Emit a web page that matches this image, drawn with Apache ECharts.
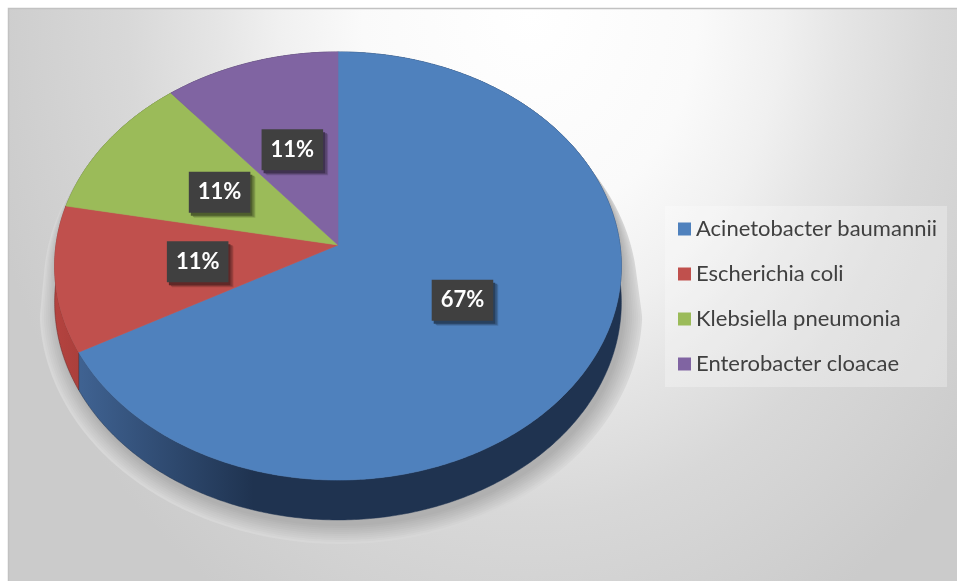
<!DOCTYPE html>
<html>
<head>
<meta charset="utf-8">
<script src="https://cdn.jsdelivr.net/npm/echarts@6/dist/echarts.min.js"></script>
<style>
  html, body { margin: 0; padding: 0; background: #ffffff; }
  #chart { width: 957px; height: 581px; }
</style>
</head>
<body>
<div id="chart"></div>
<script>
// Share of isolates per organism (percent)
const categories = ['Acinetobacter baumannii', 'Escherichia coli', 'Klebsiella pneumonia', 'Enterobacter cloacae'];
const values = [67, 11, 11, 11];
const topColors = ['#4F81BD', '#C0504D', '#9BBB59', '#8064A2'];
const sideLight = ['#44699B', '#B4433F', '#7E9A48', '#675183'];
const sideDark = ['#1F3350', '#6A2523', '#4A5C2A', '#3C2F4E'];

// Tilted disc seen in perspective: angles run clockwise from 12 o'clock
const CX = 338, CY = 245, RX = 282, RY = 212, PERSP = 0.098, DEPTH = 36;

function project(theta, r, drop) {
  const u = r * Math.sin(theta), v = r * Math.cos(theta);
  const s = 1 / (1 + PERSP * v);
  return [CX + RX * u * s, CY - RY * v * s + drop * s];
}
function arc(t0, t1, r, drop) {
  const n = Math.max(2, Math.ceil(Math.abs(t1 - t0) / 0.01));
  const pts = [];
  for (let i = 0; i <= n; i++) pts.push(project(t0 + (t1 - t0) * i / n, r, drop));
  return pts;
}
function shade(hex, k) {
  const n = parseInt(hex.slice(1), 16);
  const c = [n >> 16, (n >> 8) & 255, n & 255].map(v => Math.round(v * k));
  return 'rgb(' + c.join(',') + ')';
}

const total = values.reduce((a, b) => a + b, 0);
const starts = values.map((_, i) => values.slice(0, i).reduce((a, b) => a + b, 0));

// outline of the disc body, pushed out by `grow` px toward the lower half only,
// so the shadow spreads under and beside the disc but not above it
function silhouette(dx, dy, grow) {
  const w = Math.acos(-PERSP);
  const ox = CX, oy = 286, hx = 284, hy = 234;
  return arc(-w, w, 1, 0).concat(arc(w, 2 * Math.PI - w, 1, DEPTH))
    .map(p => {
      const f = Math.min(1, Math.max(0, (p[1] - 170) / 140));
      const g = grow * f;
      return [ox + (p[0] - ox) * (hx + g) / hx + dx * f,
              oy + (p[1] - oy) * (hy + g) / hy + dy * f];
    });
}

// graded rings, outermost first, fading from the backdrop grey to the core shadow
function shadowLayers() {
  const layers = [];
  const steps = 10;
  for (let j = steps - 1; j >= 0; j--) {
    const t = j / (steps - 1);
    const g = Math.round(0xb0 + (0xd7 - 0xb0) * t);
    layers.push({
      type: 'polygon', z2: 0,
      shape: { points: silhouette(3, 6, j * 2) },
      style: { fill: 'rgb(' + g + ',' + g + ',' + g + ')' }
    });
  }
  return layers;
}

const series = categories.map((name, i) => ({
  type: 'custom',
  name: name,
  coordinateSystem: 'none',
  silent: true,
  animation: false,
  itemStyle: { color: topColors[i] },
  data: [values[i]],
  renderItem: function (params, api) {
    const t0 = 2 * Math.PI * starts[i] / total;
    const t1 = t0 + 2 * Math.PI * api.value(0) / total;
    const mid = (t0 + t1) / 2;
    const top = arc(t0, t1, 1, 0);
    const side = top.concat(arc(t1, t0, 1, DEPTH));
    const labelPos = project(mid, 0.5, 0);
    const text = Math.round(api.value(0)) + '%';
    const boxStyle = {
      text: text,
      font: 'bold 22px Lato',
      align: 'center', verticalAlign: 'middle',
      lineHeight: 21,
      padding: [10, 9, 10, 9]
    };
    const children = i === 0 ? shadowLayers() : [];
    children.push({
      type: 'polygon', z2: 1,
      shape: { points: side },
      style: {
        fill: new echarts.graphic.LinearGradient(55, 0, 622, 0, [
          { offset: 0, color: sideLight[i] },
          { offset: 0.35, color: sideDark[i] },
          { offset: 1, color: sideDark[i] }
        ], true),
        stroke: sideDark[i], lineWidth: 0.5
      }
    });
    children.push({
      type: 'polygon', z2: 10,
      shape: { points: [[CX, CY]].concat(top) },
      style: { fill: topColors[i], stroke: topColors[i], lineWidth: 0.6 }
    });
    // drop shadow under the value box, toned from the slice colour
    [[5, 5, 0.86], [4, 4, 0.7], [2, 3, 0.5]].forEach(s => {
      const c = shade(topColors[i], s[2]);
      children.push({
        type: 'text', z2: 19,
        x: labelPos[0] + s[0], y: labelPos[1] + s[1],
        style: Object.assign({}, boxStyle, { fill: c, backgroundColor: c })
      });
    });
    children.push({
      type: 'text', z2: 20,
      x: labelPos[0], y: labelPos[1],
      style: Object.assign({}, boxStyle, {
        fill: '#ffffff',
        backgroundColor: '#404040'
      })
    });
    return { type: 'group', children: children };
  }
}));

const chart = echarts.init(document.getElementById('chart'), null, { renderer: 'canvas' });
chart.setOption({
  animation: false,
  graphic: {
    elements: [
      {
        type: 'rect', z: -10,
        x: 9, y: 9, scaleY: 1.25, originX: 0, originY: 0,
        shape: { x: 0, y: 0, width: 948, height: 572 / 1.25 },
        style: {
          fill: new echarts.graphic.RadialGradient(521, 0, 560, [
            { offset: 0, color: '#ffffff' },
            { offset: 0.3, color: '#fafafa' },
            { offset: 0.45, color: '#f0f0f0' },
            { offset: 0.56, color: '#e5e5e5' },
            { offset: 0.72, color: '#d8d8d8' },
            { offset: 1, color: '#cbcbcb' }
          ], true)
        },
        silent: true
      },
      {
        type: 'polyline', z: -9,
        shape: { points: [[8.5, 581], [8.5, 8.5], [957, 8.5]] },
        style: { stroke: '#c2c2c2', lineWidth: 1.5, fill: null },
        silent: true
      }
    ]
  },
  legend: {
    data: categories,
    orient: 'vertical',
    left: 665, top: 206,
    padding: [12, 10, 12, 13],
    backgroundColor: 'rgba(255,255,255,0.28)',
    icon: 'rect',
    itemWidth: 13, itemHeight: 13,
    itemGap: 23,
    selectedMode: false,
    textStyle: { fontFamily: 'Lato', fontSize: 22, lineHeight: 22, color: '#404040' }
  },
  series: series
});
</script>
</body>
</html>
